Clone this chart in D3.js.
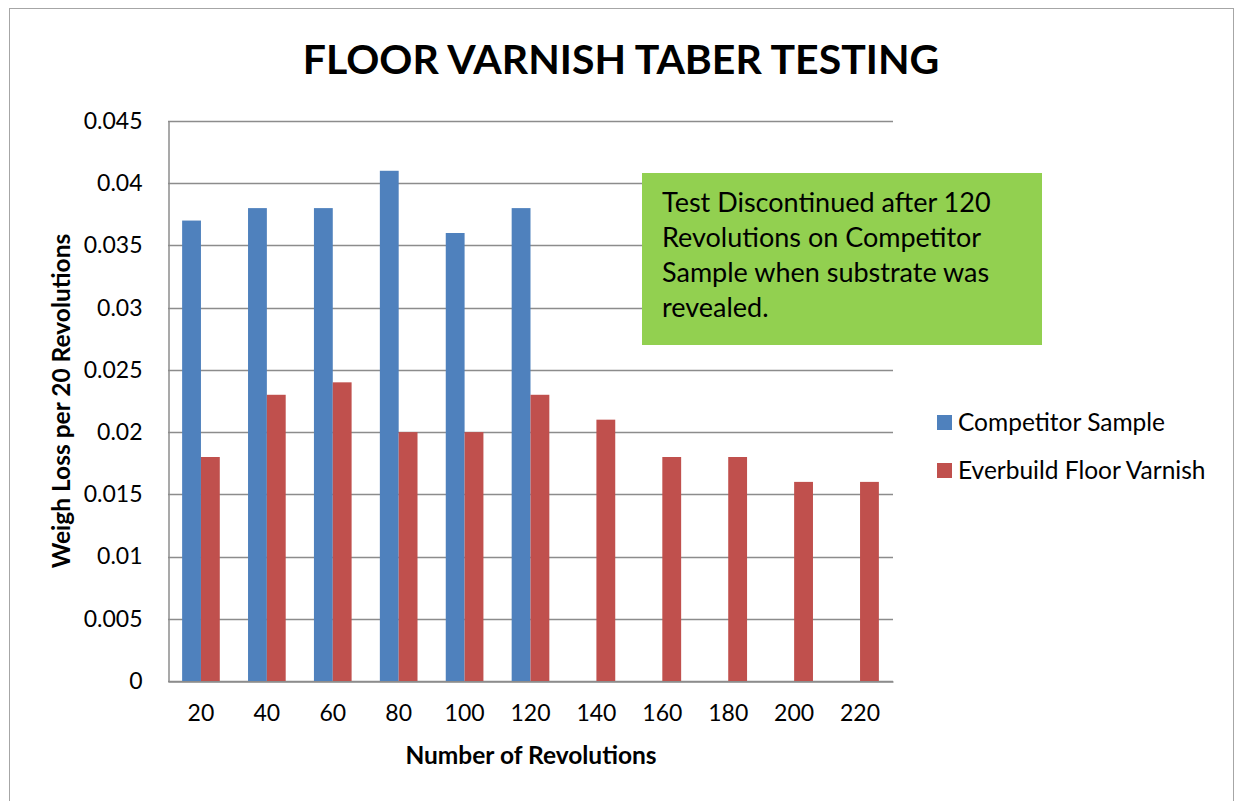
<!DOCTYPE html>
<html>
<head>
<meta charset="utf-8">
<script src="https://cdn.jsdelivr.net/npm/d3@7"></script>
<style>
  body { margin: 0; background: #fff; }
  text { font-family: Lato, "Open Sans", sans-serif; }
</style>
</head>
<body>
<div id="vis"></div>
<script>
// Data
const REVOLUTIONS = ["20", "40", "60", "80", "100", "120", "140", "160", "180", "200", "220"];
const COMPETITOR = [0.037, 0.038, 0.038, 0.041, 0.036, 0.038, null, null, null, null, null];
const EVERBUILD = [0.018, 0.023, 0.024, 0.020, 0.020, 0.023, 0.021, 0.018, 0.018, 0.016, 0.016];
const SERIES_NAMES = ["Competitor Sample", "Everbuild Floor Varnish"];
const Y_TICKS = [0, 0.005, 0.01, 0.015, 0.02, 0.025, 0.03, 0.035, 0.04, 0.045];
const NOTE_LINES = ["Test Discontinued after 120", "Revolutions on Competitor", "Sample when substrate was", "revealed."];

// Frame
const FRAME_WIDTH = 1240;
const FRAME_HEIGHT = 801;
const MARGINS = { left: 168, right: 347, top: 121, bottom: 120 };
const VIS_WIDTH = FRAME_WIDTH - MARGINS.left - MARGINS.right;
const VIS_HEIGHT = FRAME_HEIGHT - MARGINS.top - MARGINS.bottom;
const COLORS = ["#4F81BD", "#C0504D"];

const FRAME = d3.select("#vis")
    .append("svg")
    .attr("width", FRAME_WIDTH)
    .attr("height", FRAME_HEIGHT);

// outer chart border
FRAME.append("rect")
    .attr("x", 9.5).attr("y", 8.5)
    .attr("width", 1224).attr("height", 820)
    .attr("fill", "#fff")
    .attr("stroke", "#a6a6a6");

const X_SCALE = d3.scaleBand()
    .domain(REVOLUTIONS)
    .range([MARGINS.left, MARGINS.left + VIS_WIDTH]);

// gap width 150% like Excel -> two bars take 2/3.5 of band
const barW = X_SCALE.bandwidth() / 3.5;

const Y_SCALE = d3.scaleLinear()
    .domain([0, 0.045])
    .range([MARGINS.top + VIS_HEIGHT, MARGINS.top]);

// gridlines
FRAME.append("g")
    .selectAll("line")
    .data(Y_TICKS)
    .enter()
    .append("line")
    .attr("x1", MARGINS.left)
    .attr("x2", MARGINS.left + VIS_WIDTH)
    .attr("y1", d => Math.round(Y_SCALE(d)) + 0.5)
    .attr("y2", d => Math.round(Y_SCALE(d)) + 0.5)
    .attr("stroke", "#8c8c8c")
    .attr("stroke-width", 1.5);

// bars
const seriesData = [COMPETITOR, EVERBUILD];
seriesData.forEach((vals, s) => {
    FRAME.append("g")
        .selectAll("rect")
        .data(vals.map((v, i) => ({ cat: REVOLUTIONS[i], v: v })).filter(d => d.v !== null))
        .enter()
        .append("rect")
        .attr("x", d => X_SCALE(d.cat) + barW * 0.75 + s * barW)
        .attr("y", d => Y_SCALE(d.v))
        .attr("width", barW)
        .attr("height", d => Y_SCALE(0) - Y_SCALE(d.v))
        .attr("fill", COLORS[s]);
});

// Y axis
const yAxis = FRAME.append("g")
    .attr("transform", "translate(" + (MARGINS.left + 0.5) + ",0)")
    .call(d3.axisLeft(Y_SCALE).tickValues(Y_TICKS).tickFormat(d => String(+d.toFixed(3))).tickSize(0).tickPadding(26));
yAxis.select(".domain").attr("stroke", "#8c8c8c").attr("stroke-width", 1.5);
yAxis.selectAll("text").attr("font-size", "23px").attr("fill", "#000");

// X axis
const xAxis = FRAME.append("g")
    .attr("transform", "translate(0," + (MARGINS.top + VIS_HEIGHT + 0.5) + ")")
    .call(d3.axisBottom(X_SCALE).tickSize(0).tickPadding(23));
xAxis.select(".domain").attr("stroke", "#8c8c8c").attr("stroke-width", 1.5);
xAxis.selectAll("text").attr("font-size", "23px").attr("fill", "#000");

// Title
FRAME.append("text")
    .attr("x", 621).attr("y", 74)
    .attr("text-anchor", "middle")
    .attr("font-size", "41px")
    .attr("font-weight", "bold")
    .text("FLOOR VARNISH TABER TESTING");

// Axis titles
FRAME.append("text")
    .attr("transform", "translate(70,401) rotate(-90)")
    .attr("text-anchor", "middle")
    .attr("font-size", "24.5px")
    .attr("font-weight", "bold")
    .text("Weigh Loss per 20 Revolutions");

FRAME.append("text")
    .attr("x", 531).attr("y", 764)
    .attr("text-anchor", "middle")
    .attr("font-size", "24.5px")
    .attr("font-weight", "bold")
    .text("Number of Revolutions");

// Legend
const legend = FRAME.append("g")
    .selectAll("g")
    .data(SERIES_NAMES)
    .enter()
    .append("g")
    .attr("transform", (d, i) => "translate(937," + (423 + i * 48) + ")");
legend.append("rect")
    .attr("x", 0).attr("y", -8)
    .attr("width", 15).attr("height", 15)
    .attr("fill", (d, i) => COLORS[i]);
legend.append("text")
    .attr("x", 21).attr("y", 8)
    .attr("font-size", "24.5px")
    .text(d => d);

// Note box
FRAME.append("rect")
    .attr("x", 642).attr("y", 173)
    .attr("width", 400).attr("height", 172)
    .attr("fill", "#92D050");
FRAME.append("g")
    .selectAll("text")
    .data(NOTE_LINES)
    .enter()
    .append("text")
    .attr("x", 662)
    .attr("y", (d, i) => 212 + i * 35)
    .attr("font-size", "27px")
    .text(d => d);
</script>
</body>
</html>
